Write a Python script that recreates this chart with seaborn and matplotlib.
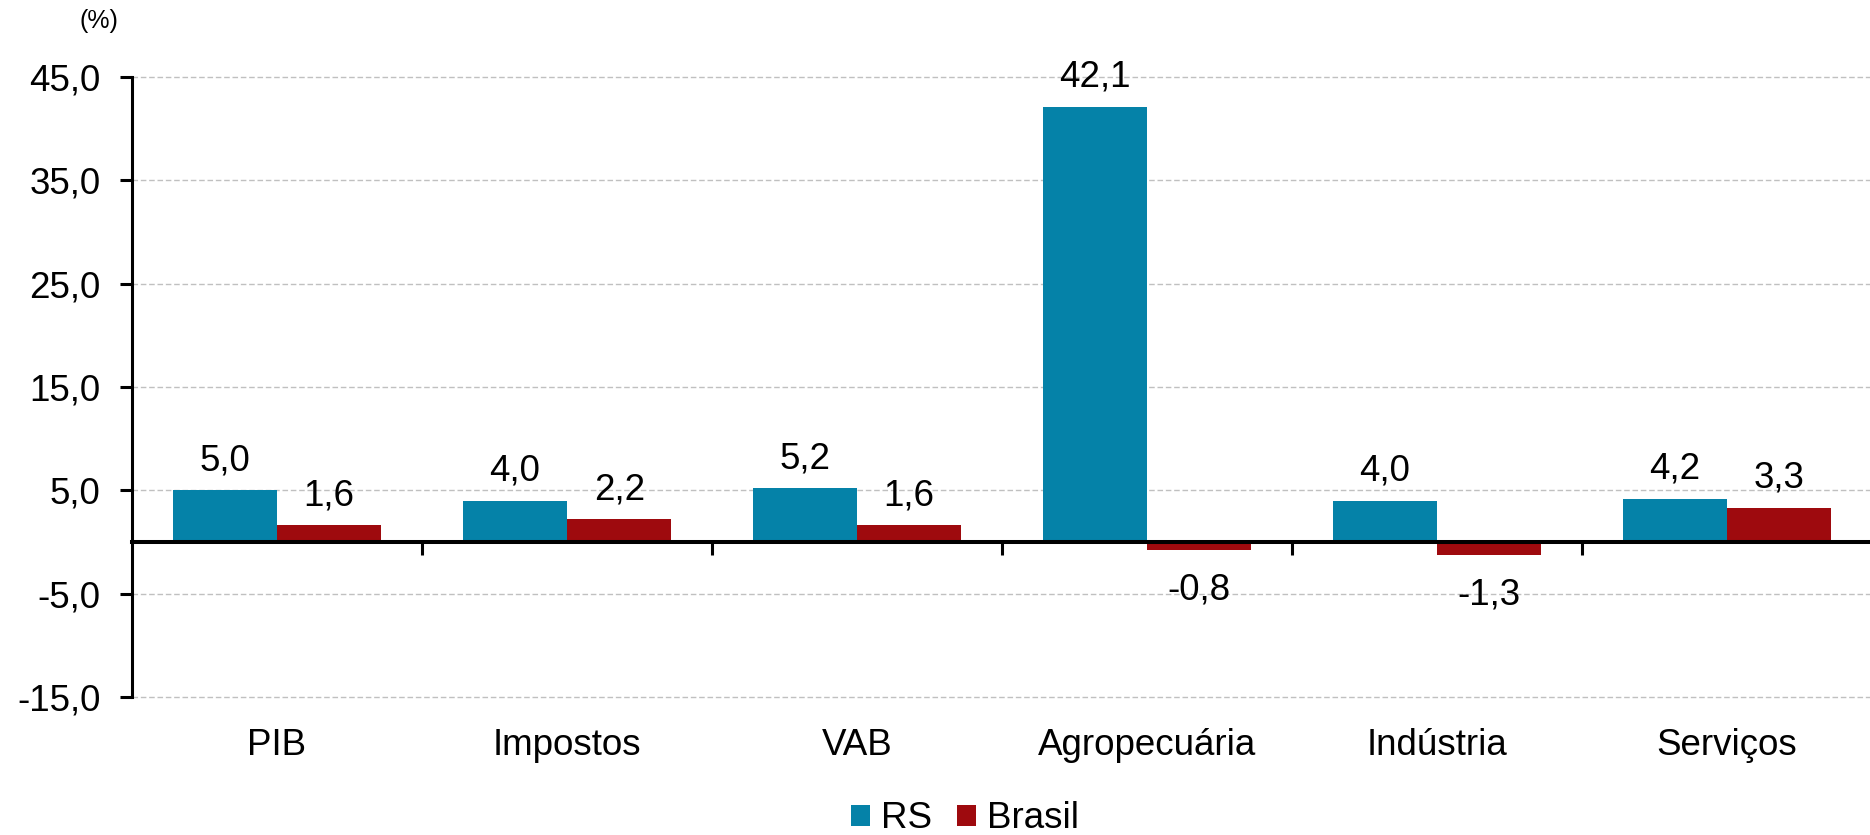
import numpy as np
import pandas as pd
import matplotlib
matplotlib.use("Agg")
import matplotlib.pyplot as plt
import seaborn as sns
from matplotlib.ticker import FixedLocator

categories = ["PIB", "Impostos", "VAB", "Agropecuária", "Indústria", "Serviços"]
rs_values = [5.0, 4.0, 5.2, 42.1, 4.0, 4.2]
brasil_values = [1.6, 2.2, 1.6, -0.8, -1.3, 3.3]
series_names = ["RS", "Brasil"]
y_ticks = [-15, -5, 5, 15, 25, 35, 45]

colors = {"RS": "#0582A8", "Brasil": "#9E0A0E"}

df = pd.DataFrame({
    "Categoria": categories * 2,
    "Serie": [series_names[0]] * len(categories) + [series_names[1]] * len(categories),
    "Valor": rs_values + brasil_values,
})

sns.set_style("white")
plt.rcParams["font.family"] = ["Liberation Sans", "DejaVu Sans"]
plt.rcParams["text.color"] = "black"
fs = 26.5

fig = plt.figure(figsize=(18.7, 8.35), dpi=100)
ax = fig.add_axes([0.0706, 0.1653, 0.9305, 0.7425])

sns.barplot(data=df, x="Categoria", y="Valor", hue="Serie", order=categories,
            hue_order=series_names, palette=colors, width=0.72, saturation=1,
            edgecolor="none", ax=ax, legend=True)

ax.set_xlim(-0.5, len(categories) - 0.5)
ax.set_ylim(y_ticks[0], y_ticks[-1])
ax.set_xlabel("")
ax.set_ylabel("")

# y axis
ax.yaxis.set_major_locator(FixedLocator(y_ticks))
ax.set_yticklabels([f"{v:.1f}".replace(".", ",") for v in y_ticks], fontsize=fs)
ax.tick_params(axis="y", which="major", left=True, direction="out", length=8.6,
               width=2.2, pad=14, colors="black")
ax.yaxis.grid(True, color="#c0c0c0", linestyle=(0, (4, 2)), linewidth=1)
for gl in ax.get_ygridlines():
    gl.set_clip_on(False)
ax.set_axisbelow(True)

# x axis at zero
for s in ["top", "right"]:
    ax.spines[s].set_visible(False)
ax.spines["bottom"].set_position(("data", 0))
ax.spines["bottom"].set_linewidth(2.9)
ax.spines["bottom"].set_color("black")
ax.spines["left"].set_linewidth(2.2)
ax.spines["left"].set_color("black")

ax.set_xticks(range(len(categories)))
ax.set_xticklabels(categories, fontsize=fs)
ax.set_xticks([i + 0.5 for i in range(len(categories) - 1)], minor=True)
ax.tick_params(axis="x", which="major", bottom=True, length=0, pad=134, colors="black")
ax.tick_params(axis="x", which="minor", bottom=True, direction="out", length=9.4, width=2.2, color="black")

# data labels
for container in ax.containers:
    for bar in container:
        h = bar.get_height()
        xc = bar.get_x() + bar.get_width() / 2
        label = f"{h:.1f}".replace(".", ",")
        if h >= 0:
            ax.annotate(label, (xc, h), xytext=(0, 12), textcoords="offset pixels",
                        ha="center", va="bottom", fontsize=fs, color="black")
        else:
            ax.annotate(label, (xc, h), xytext=(0, -22), textcoords="offset pixels",
                        ha="center", va="top", fontsize=fs, color="black")

handles, labels = ax.get_legend_handles_labels()
ax.get_legend().remove()
fig.legend(handles, labels, loc="center", bbox_to_anchor=(965 / 1870, 16 / 835),
           ncol=2, frameon=False, fontsize=fs, handlelength=0.5, handleheight=0.5,
           handletextpad=0.3, columnspacing=0.7, labelcolor="black")

fig.text(99 / 1870, 1 - 21 / 835, "(%)", ha="center", va="center", fontsize=18, color="black")

fig.savefig("out.png", dpi=100)
